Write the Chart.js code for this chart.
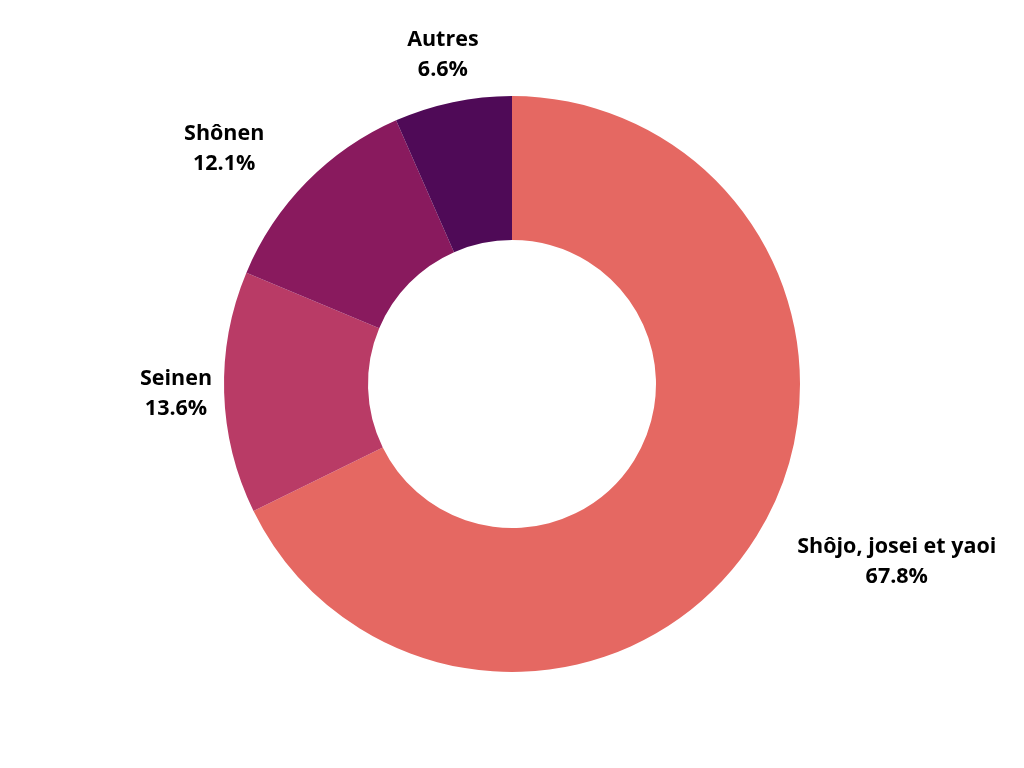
<!DOCTYPE html>
<html>
<head>
<meta charset="utf-8">
<script src="https://cdn.jsdelivr.net/npm/chart.js@4"></script>
<style>
  html, body { margin: 0; padding: 0; background: #ffffff; }
  #wrap { width: 1024px; height: 768px; }
</style>
</head>
<body>
<div id="wrap"><canvas id="c" width="1024" height="768"></canvas></div>
<script>
const categories = ["Shôjo, josei et yaoi", "Seinen", "Shônen", "Autres"];
const shares = [67.8, 13.6, 12.1, 6.6];
const sliceColors = ["#e56862", "#b93b66", "#891a5e", "#4f0a57"];

const outsideLabels = {
  id: 'outsideLabels',
  afterDatasetsDraw(chart) {
    const ctx = chart.ctx;
    const meta = chart.getDatasetMeta(0);
    ctx.save();
    ctx.font = '700 21.5px "Open Sans", "DejaVu Sans", sans-serif';
    ctx.fillStyle = '#000000';
    ctx.textBaseline = 'middle';
    ctx.textAlign = 'center';
    meta.data.forEach((arc, i) => {
      const mid = (arc.startAngle + arc.endAngle) / 2;
      const dx = Math.cos(mid), dy = Math.sin(mid);
      const d = arc.outerRadius * 1.167;
      const px = arc.x + dx * d;
      const py = arc.y + dy * d;
      const lines = [chart.data.labels[i], shares[i].toFixed(1) + '%'];
      const w = Math.max(...lines.map(t => ctx.measureText(t).width));
      let cx = px;
      if (Math.abs(dx) < 0.9 && Math.abs(dy) < 0.9) {
        cx = dx > 0 ? px + w / 2 : px - w / 2 - 8;
      }
      const lh = 30;
      lines.forEach((t, k) => {
        ctx.fillText(t, cx, py + (k - (lines.length - 1) / 2) * lh);
      });
    });
    ctx.restore();
  }
};

new Chart(document.getElementById('c'), {
  type: 'doughnut',
  data: {
    labels: categories,
    datasets: [{
      data: shares,
      backgroundColor: sliceColors,
      borderWidth: 0,
      hoverOffset: 0
    }]
  },
  options: {
    responsive: false,
    animation: false,
    cutout: '50%',
    layout: { padding: { top: 96, bottom: 96, left: 0, right: 0 } },
    plugins: {
      legend: { display: false },
      tooltip: { enabled: false }
    }
  },
  plugins: [outsideLabels]
});
</script>
</body>
</html>
